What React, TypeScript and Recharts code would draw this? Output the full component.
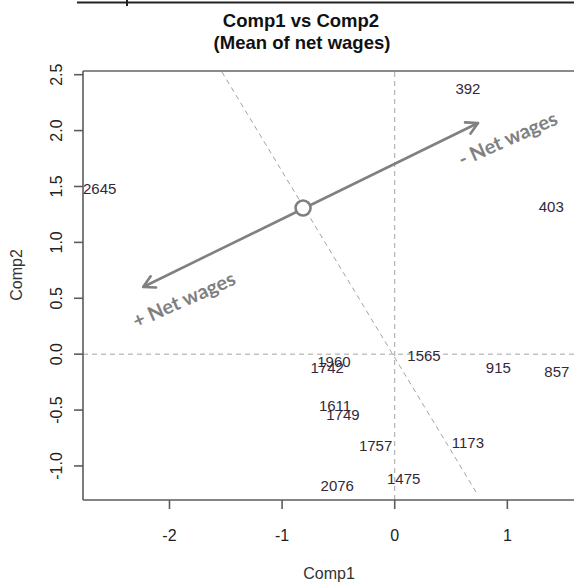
import React from 'react';
import { ScatterChart, Scatter, XAxis, YAxis, ReferenceLine, ReferenceDot } from 'recharts';

// ---- data ----
const pointLabels = ['392', '403', '2645', '1565', '915', '857', '1960', '1742', '1611', '1749', '1757', '1173', '1475', '2076'];
const comp1Values = [0.65, 1.39, -2.62, 0.26, 0.92, 1.44, -0.54, -0.60, -0.53, -0.46, -0.17, 0.65, 0.08, -0.51];
const comp2Values = [2.38, 1.32, 1.48, -0.01, -0.12, -0.16, -0.07, -0.12, -0.46, -0.54, -0.82, -0.79, -1.11, -1.18];

const xTicks = [-2, -1, 0, 1];
const yTicks = [-1, -0.5, 0, 0.5, 1, 1.5, 2, 2.5];
const xDomain = [-2.768, 1.592];
const yDomain = [-1.3045, 2.533];

// direction of the "Net wages" variable (arrow) and its perpendicular
const arrowEnds = [{ x: -2.234, y: 0.601 }, { x: 0.74, y: 2.068 }];
const arrowCentre = { x: -0.814, y: 1.307 };
const perpendicularEnds = [{ x: -1.534, y: 2.524 }, { x: 0.74, y: -1.263 }];
const arrowLabels = [
  { text: '+ Net wages', x: -1.871, y: 0.484 },
  { text: '- Net wages', x: 1.006, y: 1.924 },
];

const data = pointLabels.map((label, i) => ({ label, x: comp1Values[i], y: comp2Values[i] }));

const AXIS = '#5c5c5c';
const ARROW = '#808080';
const DASH = '#a3a3a3';
const SANS = '"Liberation Sans", Arial, sans-serif';

const XTick = (p: any) => (
  <text x={p.x} y={p.y} dy={32} textAnchor="middle" fontFamily={SANS} fontSize={16} fill="#222">
    {String(p.payload.value)}
  </text>
);

const YTick = (p: any) => (
  <text
    x={0}
    y={0}
    transform={`translate(${p.x - 12},${p.y}) rotate(-90)`}
    textAnchor="middle"
    fontFamily={SANS}
    fontSize={16}
    fill="#222"
  >
    {Number(p.payload.value).toFixed(1)}
  </text>
);

const LabelShape = (p: any) => (
  <text x={p.cx} y={p.cy} dy="0.36em" textAnchor="middle" fontFamily={SANS} fontSize={15} fill="#33283a">
    {p.payload.label}
  </text>
);

const DoubleArrow = (p: any) => {
  const { x1, y1, x2, y2 } = p;
  const ang = Math.atan2(y2 - y1, x2 - x1);
  const L = 13;
  const a = 0.5;
  const head = (x: number, y: number, dir: number) => {
    const ax = x - L * Math.cos(dir - a);
    const ay = y - L * Math.sin(dir - a);
    const bx = x - L * Math.cos(dir + a);
    const by = y - L * Math.sin(dir + a);
    return `M${ax},${ay} L${x},${y} L${bx},${by} `;
  };
  return (
    <g>
      <line x1={x1} y1={y1} x2={x2} y2={y2} stroke={ARROW} strokeWidth={2.6} />
      <path
        d={head(x2, y2, ang) + head(x1, y1, ang + Math.PI)}
        fill="none"
        stroke={ARROW}
        strokeWidth={2.6}
        strokeLinecap="round"
        strokeLinejoin="round"
      />
    </g>
  );
};

export default function App() {
  return (
    <div style={{ position: 'absolute', left: 0, top: 0, width: 574, height: 585, background: '#fff' }}>
      <ScatterChart width={574} height={585} margin={{ top: 71, right: 0, bottom: 0, left: 0 }}>
        <XAxis
          type="number"
          dataKey="x"
          domain={xDomain}
          ticks={xTicks}
          allowDataOverflow
          height={85}
          tickSize={9}
          tickMargin={0}
          tick={<XTick />}
          axisLine={{ stroke: AXIS, strokeWidth: 1.6 }}
          tickLine={{ stroke: AXIS, strokeWidth: 1.6 }}
        />
        <YAxis
          type="number"
          dataKey="y"
          domain={yDomain}
          ticks={yTicks}
          allowDataOverflow
          width={83}
          tickSize={9}
          tickMargin={0}
          tick={<YTick />}
          axisLine={{ stroke: AXIS, strokeWidth: 1.6 }}
          tickLine={{ stroke: AXIS, strokeWidth: 1.6 }}
        />
        <ReferenceLine y={yDomain[1]} stroke="#8a8a8a" strokeWidth={2} />
        <ReferenceLine y={0} stroke={DASH} strokeDasharray="5 4" strokeWidth={1} />
        <ReferenceLine x={0} stroke={DASH} strokeDasharray="5 4" strokeWidth={1} />
        <ReferenceLine segment={perpendicularEnds} stroke={DASH} strokeDasharray="5 4" strokeWidth={1} />
        <ReferenceLine segment={arrowEnds} shape={DoubleArrow} />
        <ReferenceDot
          x={arrowCentre.x}
          y={arrowCentre.y}
          r={7.5}
          fill="#fff"
          stroke={ARROW}
          strokeWidth={2.6}
        />
        {arrowLabels.map((l) => (
          <ReferenceDot
            key={l.text}
            x={l.x}
            y={l.y}
            r={1}
            shape={(p: any) => (
              <text
                x={0}
                y={0}
                transform={`translate(${p.cx},${p.cy}) rotate(-24)`}
                dy="0.33em"
                textAnchor="middle"
                fontFamily="Lato, 'Open Sans', sans-serif"
                fontWeight={700}
                fontSize={20}
                fill={ARROW}
              >
                {l.text}
              </text>
            )}
          />
        ))}
        <Scatter data={data} isAnimationActive={false} shape={LabelShape} />
      </ScatterChart>
      <svg
        width={574}
        height={585}
        style={{ position: 'absolute', left: 0, top: 0, pointerEvents: 'none' }}
      >
        <line x1={77} y1={2.5} x2={574} y2={2.5} stroke="#222" strokeWidth={2} />
        <line x1={127} y1={0} x2={127} y2={6} stroke="#222" strokeWidth={2} />
        <text x={301} y={26.5} textAnchor="middle" fontFamily={SANS} fontWeight={700} fontSize={18.5} fill="#111">
          Comp1 vs Comp2
        </text>
        <text x={302} y={49} textAnchor="middle" fontFamily={SANS} fontWeight={700} fontSize={18.5} fill="#111">
          (Mean of net wages)
        </text>
        <text x={329} y={579} textAnchor="middle" fontFamily={SANS} fontSize={16} fill="#333">
          Comp1
        </text>
        <text
          x={0}
          y={0}
          transform="translate(22,275) rotate(-90)"
          textAnchor="middle"
          fontFamily={SANS}
          fontSize={16}
          fill="#333"
        >
          Comp2
        </text>
      </svg>
    </div>
  );
}
